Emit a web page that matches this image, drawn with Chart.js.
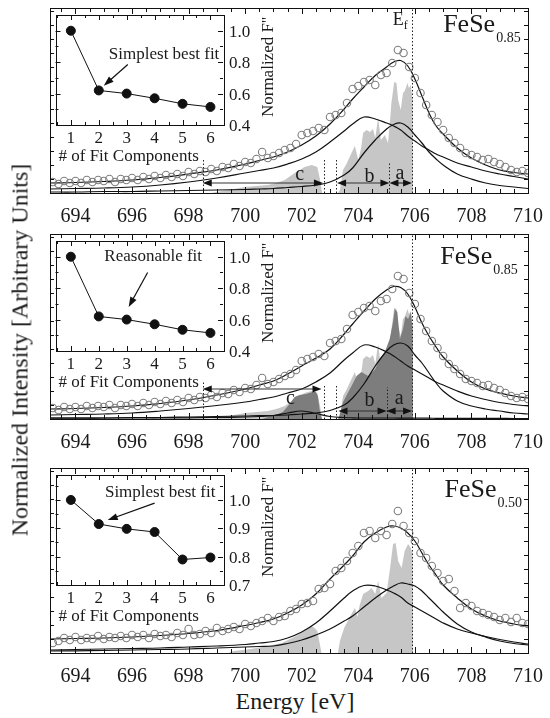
<!DOCTYPE html>
<html>
<head>
<meta charset="utf-8">
<script src="https://cdn.jsdelivr.net/npm/chart.js@4.4.1/dist/chart.umd.min.js"></script>
<style>
  body { margin: 0; background: #fff; }
  #wrap { position: relative; width: 550px; height: 718px; font-family: "Liberation Serif", "Times New Roman", serif; color: #1a1a1a; }
  canvas { position: absolute; }
  .lbl { position: absolute; white-space: nowrap; line-height: 1; }
  .ytitle { position: absolute; left: 20px; top: 350px; transform: translate(-50%, -50%) rotate(-90deg); white-space: nowrap; font-size: 24px; }
  .xtitle { position: absolute; left: 295px; top: 701px; transform: translate(-50%, -50%); white-space: nowrap; font-size: 24px; }
</style>
</head>
<body>
<div id="wrap">
  <canvas id="main1" width="550" height="226" style="left:0;top:0"></canvas>
  <canvas id="main2" width="550" height="226" style="left:0;top:226px"></canvas>
  <canvas id="main3" width="550" height="226" style="left:0;top:460px"></canvas>
  <canvas id="inset1" width="250" height="170" style="left:50px;top:6px"></canvas>
  <canvas id="inset2" width="250" height="170" style="left:50px;top:232px"></canvas>
  <canvas id="inset3" width="250" height="170" style="left:50px;top:466px"></canvas>
  <div class="ytitle">Normalized Intensity [Arbitrary Units]</div>
  <div class="xtitle">Energy [eV]</div>
</div>
<script>
// x axis
const xTicks = [694, 696, 698, 700, 702, 704, 706, 708, 710];

// measured points (open circles), same energy grid for all panels
const eCirc = [693.2, 693.4, 693.6, 693.8, 694, 694.2, 694.4, 694.6, 694.8, 695, 695.2, 695.4, 695.6, 695.8,
  696, 696.2, 696.4, 696.6, 696.8, 697, 697.2, 697.4, 697.6, 697.8, 698, 698.2, 698.4, 698.6, 698.8,
  699, 699.2, 699.4, 699.6, 699.8, 700, 700.2, 700.4, 700.6, 700.8, 701, 701.2, 701.4, 701.6, 701.8,
  702, 702.2, 702.4, 702.6, 702.8, 703, 703.2, 703.4, 703.6, 703.8, 704, 704.2, 704.4, 704.6, 704.8,
  705, 705.2, 705.4, 705.6, 705.8, 706, 706.2, 706.4, 706.6, 706.8, 707, 707.2, 707.4, 707.6, 707.8,
  708, 708.2, 708.4, 708.6, 708.8, 709, 709.2, 709.4, 709.6, 709.8, 710];
const circ085 = [11, 9, 12, 10, 12, 10, 13, 11, 13, 12, 14, 11, 14, 13,
  15, 13, 16, 14, 17, 15, 18, 16, 19, 17, 21, 19, 22, 21, 24,
  22, 26, 25, 29, 27, 31, 30, 34, 41, 35, 37, 40, 43, 45, 49,
  58, 60, 62, 65, 63, 76, 78, 80, 90, 104, 107, 111, 113, 108, 118,
  120, 130, 143, 140, 126, 115, 100, 88, 78, 71, 63, 55, 50, 45, 40,
  38, 36, 33, 34, 31, 29, 26, 23, 21, 22, 20];
const circ050 = [10, 12, 15, 13, 16, 13, 15, 14, 17, 14, 16, 15, 17, 15,
  18, 16, 18, 15, 19, 17, 18, 16, 20, 18, 24, 18, 19, 22, 20,
  25, 22, 24, 26, 24, 29, 27, 30, 32, 35, 32, 36, 37, 42, 44,
  49, 50, 52, 64, 65, 69, 82, 85, 92, 100, 107, 120, 122, 115, 122,
  118, 129, 142, 127, 120, 112, 100, 95, 87, 80, 72, 74, 62, 45, 50,
  47, 42, 40, 38, 36, 33, 35, 31, 35, 30, 29];

// fit curves, common energy grid
const eFit = [693.1, 694, 695, 696, 697, 698, 699, 700, 700.5, 701, 701.5, 702, 702.5, 703, 703.5, 703.8,
  704.2, 704.6, 705, 705.25, 705.5, 705.75, 706, 706.25, 706.5, 706.75, 707, 707.5, 708, 708.5, 709, 709.5, 710];
const fit1Total = [10, 10.5, 11.5, 13, 15.5, 19, 23, 29, 32.5, 36, 41, 48, 57, 69, 84, 94,
  106, 117.5, 126, 131, 132.5, 127, 114, 97, 80, 67, 59, 45, 35, 28, 23, 20.5, 19];
const fit1B = [4, 4.5, 5, 6, 8, 11, 15, 20, 22.5, 25, 29, 34, 41, 51, 62, 69,
  76, 74, 70, 67, 63, 57, 52, 47, 43, 39, 36, 30, 26, 22, 19, 16.5, 14];
const fit1A = [1, 1, 1.5, 1.5, 2, 2.5, 3, 3.5, 4, 4.5, 5.5, 6.5, 8, 11, 18, 25,
  40, 53, 64, 68.5, 70, 66, 58, 50, 41, 34, 28, 19, 14, 10, 7.5, 6, 4.5];
const fit2Total = [10, 10.5, 11.5, 13, 15.5, 19, 24, 30, 34, 38, 45, 53, 61, 70, 85, 95,
  108, 120, 129, 132.5, 131.5, 125, 112, 96, 83, 72, 62, 48, 37, 30, 26, 23, 21];
const fit2B = [4, 4.5, 5, 6, 8, 10.5, 13.5, 17, 19.5, 22, 26, 30, 37, 46, 59, 66,
  74, 72, 67, 63, 58, 53, 49, 45, 41, 37, 34, 28, 23, 19.5, 16.5, 14.5, 13];
const fit2A = [1, 1, 1, 1.5, 1.5, 2, 2.5, 3, 3.5, 3.5, 4, 5, 6, 8.5, 14, 21,
  35, 53, 68, 74, 76, 73, 64, 56, 46, 36, 28, 18, 13, 10, 8, 6, 5];
const fit2C = [0.8, 0.8, 1, 1, 1, 1.2, 1.5, 2, 2.5, 3.5, 6, 8, 5.5, 2.5, 1.5, 1.2,
  1, 1, 1, 1, 0.9, 0.9, 0.8, 0.8, 0.8, 0.7, 0.7, 0.7, 0.6, 0.6, 0.6, 0.5, 0.5];
const fit3Total = [14, 14.5, 15, 16, 17.5, 19.5, 22.5, 27.5, 30.5, 34, 40, 48, 59, 74, 88, 97,
  111, 120, 126, 127, 125, 120, 112, 100, 88, 78, 68, 55, 44, 37, 32, 29, 27];
const fit3Low = [3, 3.5, 4, 4.5, 5, 6, 7, 8.5, 10, 11.5, 15, 21, 30, 42, 55, 62,
  67.5, 67, 63, 60, 56, 50, 46, 42, 38, 34, 30, 24, 20, 16.5, 13.5, 11, 9];
const fit3High = [2, 2.2, 2.5, 3, 3.5, 4, 5, 6, 6.5, 7, 9.5, 13, 18, 24, 32, 37,
  46, 55, 63, 67, 70, 69, 67, 62, 55, 48, 41, 29, 21, 16, 12, 9.5, 8];

// calculated spectra (grey areas)
const specE1 = [698.8, 699.2, 699.6, 700, 700.4, 700.8, 701.1, 701.4, 701.75, 702.1, 702.35, 702.55, 702.65, 702.72,
  703.28, 703.35, 703.46, 703.58, 703.76, 703.88, 704.0, 704.1, 704.17, 704.29, 704.41, 704.52, 704.6, 704.7,
  704.8, 704.94, 705.05, 705.11, 705.17, 705.27, 705.35, 705.41, 705.5, 705.58, 705.64, 705.74, 705.79, 705.86, 705.92, 705.93];
const specI1 = [0, 2, 4, 6, 7, 8, 10, 13, 20, 26, 28, 26, 13, 0,
  0, 3, 23, 29, 40, 47, 33, 45, 60, 63, 61, 64, 55, 75,
  53, 58, 50, 68, 90, 111, 110, 93, 83, 100, 102, 110, 105, 108, 93, 0];
const darkE2 = [700.6, 700.8, 701.1, 701.33, 701.57, 701.75, 701.92, 702.15, 702.39, 702.5, 702.57, 702.63, 702.69, 702.72,
  703.3, 703.46, 703.76, 703.94, 704.11, 704.35, 704.6, 704.76, 704.94, 705.11, 705.23, 705.29, 705.38, 705.47,
  705.58, 705.67, 705.76, 705.86, 705.92, 705.93];
const darkI2 = [0, 2, 4, 7, 15, 22, 24, 25, 27, 27, 23, 10, 2, 0,
  0, 17, 33, 43, 47, 43, 50, 60, 67, 80, 97, 110, 107, 80,
  90, 103, 100, 107, 90, 0];
const specE3 = [699.4, 699.6, 700.2, 700.8, 701.3, 701.8, 702.1, 702.35, 702.45, 702.55, 702.62, 702.7,
  703.28, 703.35, 703.5, 703.76, 703.88, 703.97, 704.05, 704.17, 704.35, 704.47, 704.6, 704.7, 704.82, 705.0,
  705.11, 705.23, 705.32, 705.41, 705.53, 705.64, 705.76, 705.86, 705.92, 705.93];
const specI3 = [0, 2, 4, 7, 10, 17, 22, 27, 25, 22, 12, 0,
  0, 12, 25, 39, 45, 36, 48, 59, 62, 65, 59, 72, 55, 60,
  82, 109, 110, 92, 85, 102, 109, 105, 99, 0];

// insets: normalized F'' vs number of fit components
const nComp = [1, 2, 3, 4, 5, 6];
const fRatio1 = [1.0, 0.62, 0.60, 0.57, 0.535, 0.515];
const fRatio2 = [1.0, 0.62, 0.60, 0.57, 0.535, 0.515];
const fRatio3 = [1.0, 0.915, 0.898, 0.887, 0.79, 0.797];
const insetTicks12 = [0.4, 0.6, 0.8, 1.0];
const insetTicks3 = [0.7, 0.8, 0.9, 1.0];

const wrap = document.getElementById('wrap');

function pts(xs, ys) {
  return xs.map((v, i) => ({ x: v, y: ys[i] }));
}

// text is placed as html on top of the canvases, at positions given by the chart scales
function addText(html, x, y, size, opts = {}) {
  const d = document.createElement('div');
  d.className = 'lbl';
  d.innerHTML = html;
  d.style.fontSize = size + 'px';
  d.style.left = x + 'px';
  d.style.top = y + 'px';
  const tx = opts.align === 'left' ? '0' : '-50%';
  d.style.transform = `translate(${tx}, -50%)` + (opts.rotate ? ` rotate(${opts.rotate}deg)` : '');
  wrap.appendChild(d);
}

function arrowHead(ctx, tx, ty, ang, len = 9, half = 3.5) {
  const c = Math.cos(ang), s = Math.sin(ang);
  ctx.beginPath();
  ctx.moveTo(tx, ty);
  ctx.lineTo(tx - len * c - half * s, ty - len * s + half * c);
  ctx.lineTo(tx - len * c + half * s, ty - len * s - half * c);
  ctx.closePath();
  ctx.fill();
}

const panelDecor = {
  id: 'panelDecor',
  afterDatasetsDraw(chart, args, opts) {
    const { ctx, chartArea: a, scales: { x, y } } = chart;
    ctx.save();
    ctx.strokeStyle = '#222';
    ctx.lineWidth = 1;
    ctx.setLineDash([1.5, 2]);
    (opts.dotted || []).forEach(([e, h]) => {
      const px = Math.round(x.getPixelForValue(e)) + 0.5;
      ctx.beginPath();
      ctx.moveTo(px, a.bottom);
      ctx.lineTo(px, h == null ? a.top : y.getPixelForValue(h));
      ctx.stroke();
    });
    ctx.setLineDash([]);
    ctx.strokeStyle = '#333';
    ctx.fillStyle = '#111';
    ctx.lineWidth = 1.2;
    (opts.arrows || []).forEach(([e1, e2, h]) => {
      const x1 = x.getPixelForValue(e1), x2 = x.getPixelForValue(e2), py = y.getPixelForValue(h);
      ctx.beginPath();
      ctx.moveTo(x1 + 4, py);
      ctx.lineTo(x2 - 4, py);
      ctx.stroke();
      arrowHead(ctx, x1, py, Math.PI);
      arrowHead(ctx, x2, py, 0);
    });
    ctx.restore();
  },
  afterDraw(chart) {
    const { ctx, chartArea: a, scales: { x, y } } = chart;
    ctx.save();
    ctx.strokeStyle = '#111';
    ctx.lineWidth = 1;
    ctx.strokeRect(Math.round(a.left) + 0.5, Math.round(a.top) + 0.5, Math.round(a.right - a.left), Math.round(a.bottom - a.top));
    ctx.beginPath();
    for (let e = 693.5; e < 710; e += 0.5) {
      const px = Math.round(x.getPixelForValue(e)) + 0.5;
      const len = e % 2 === 0 ? 6 : 4;
      ctx.moveTo(px, a.bottom); ctx.lineTo(px, a.bottom - len);
      ctx.moveTo(px, a.top); ctx.lineTo(px, a.top + len);
    }
    for (let h = 14; h < 185; h += 14) {
      const py = Math.round(y.getPixelForValue(h)) + 0.5;
      ctx.moveTo(a.left, py); ctx.lineTo(a.left + 4, py);
      ctx.moveTo(a.right, py); ctx.lineTo(a.right - 4, py);
    }
    ctx.stroke();
    ctx.restore();
  }
};

const insetDecor = {
  id: 'insetDecor',
  afterDraw(chart, args, opts) {
    const { ctx, chartArea: a, scales: { x, y } } = chart;
    ctx.save();
    ctx.strokeStyle = '#111';
    ctx.fillStyle = '#111';
    ctx.lineWidth = 1;
    ctx.strokeRect(Math.round(a.left) + 0.5, Math.round(a.top) + 0.5, Math.round(a.right - a.left), Math.round(a.bottom - a.top));
    ctx.beginPath();
    for (let n = 0.5; n <= 6; n += 0.5) {
      const px = Math.round(x.getPixelForValue(n)) + 0.5;
      const len = n % 1 === 0 ? 5 : 3;
      ctx.moveTo(px, a.bottom); ctx.lineTo(px, a.bottom - len);
      ctx.moveTo(px, a.top); ctx.lineTo(px, a.top + len);
    }
    opts.yMinor.forEach(v => {
      const py = Math.round(y.getPixelForValue(v)) + 0.5;
      const len = opts.yTicks.includes(v) ? 5 : 3;
      ctx.moveTo(a.left, py); ctx.lineTo(a.left + len, py);
      ctx.moveTo(a.right, py); ctx.lineTo(a.right - len, py);
    });
    ctx.stroke();

    const n = opts.note;
    const x1 = x.getPixelForValue(n.from[0]), y1 = y.getPixelForValue(n.from[1]);
    const x2 = x.getPixelForValue(n.to[0]), y2 = y.getPixelForValue(n.to[1]);
    const ang = Math.atan2(y2 - y1, x2 - x1);
    ctx.lineWidth = 1.2;
    ctx.beginPath();
    ctx.moveTo(x1, y1);
    ctx.lineTo(x2 - 6 * Math.cos(ang), y2 - 6 * Math.sin(ang));
    ctx.stroke();
    arrowHead(ctx, x2, y2, ang, 10, 3.5);
    ctx.restore();
  }
};

function mainChart(id, p) {
  const canvas = document.getElementById(id);
  const datasets = [
    {
      data: pts(eCirc, p.circ), showLine: false, pointRadius: 3.7, pointBorderWidth: 1.1,
      pointBorderColor: '#7e7e7e', pointBackgroundColor: 'rgba(255,255,255,0)'
    },
    ...p.fits.map(f => ({
      data: pts(eFit, f), showLine: true, borderColor: '#111', borderWidth: 1.2, pointRadius: 0, tension: 0.4
    })),
    ...p.fills.map(f => ({
      data: pts(f.e, f.i), showLine: true, borderWidth: 0, pointRadius: 0,
      backgroundColor: f.color, fill: 'origin', tension: 0
    }))
  ];
  const chart = new Chart(canvas, {
    type: 'scatter',
    data: { datasets },
    options: {
      responsive: false,
      animation: false,
      events: [],
      layout: { padding: { left: 50, right: 22, top: 8, bottom: 0 } },
      plugins: { legend: { display: false }, tooltip: { enabled: false }, panelDecor: p.decor },
      scales: {
        x: {
          type: 'linear', min: 693.1, max: 710,
          grid: { display: false }, border: { display: false },
          afterBuildTicks: s => { s.ticks = xTicks.map(v => ({ value: v })); },
          afterFit: s => { s.height = 33; },
          ticks: { display: false }
        },
        y: { display: false, min: 0, max: 185 }
      }
    },
    plugins: [panelDecor]
  });

  const ox = canvas.offsetLeft, oy = canvas.offsetTop;
  const { chartArea: a, scales: { x, y } } = chart;
  xTicks.forEach(v => addText(String(v), ox + x.getPixelForValue(v), oy + a.bottom + 22, 20));
  (p.decor.letters || []).forEach(([t, e, h]) => addText(t, ox + x.getPixelForValue(e), oy + y.getPixelForValue(h), 20));
  const s = p.decor.sample;
  addText(`${s.name}<span style="font-size:14px;position:relative;top:10px;margin-left:1px">${s.sub}</span>`,
    ox + x.getPixelForValue(s.e), oy + y.getPixelForValue(s.h) - 0.3375 * 26, 26, { align: 'left' });
  if (p.decor.ef) {
    const ef = p.decor.ef;
    addText('E<span style="font-size:12px;position:relative;top:4px">f</span>',
      ox + x.getPixelForValue(ef.e), oy + y.getPixelForValue(ef.h) - 0.3375 * 18, 18, { align: 'left' });
  }
}

function insetChart(id, p) {
  const canvas = document.getElementById(id);
  const chart = new Chart(canvas, {
    type: 'scatter',
    data: {
      datasets: [{
        data: pts(nComp, p.f), showLine: true, borderColor: '#111', borderWidth: 1,
        pointRadius: 4.5, pointBackgroundColor: '#111', pointBorderColor: '#111'
      }]
    },
    options: {
      responsive: false,
      animation: false,
      events: [],
      layout: { padding: { left: 5, top: 9, right: 0, bottom: 0 } },
      plugins: { legend: { display: false }, tooltip: { enabled: false }, insetDecor: p },
      scales: {
        x: {
          type: 'linear', min: 0.45, max: 6.45,
          grid: { display: false }, border: { display: false },
          afterBuildTicks: s => { s.ticks = nComp.map(v => ({ value: v })); },
          afterFit: s => { s.height = 51; },
          ticks: { display: false }
        },
        y: {
          position: 'right', min: p.yMin, max: p.yMax,
          grid: { display: false }, border: { display: false },
          afterBuildTicks: s => { s.ticks = p.yTicks.map(v => ({ value: v })); },
          afterFit: s => { s.width = 77; },
          ticks: { display: false }
        }
      }
    },
    plugins: [insetDecor]
  });

  const ox = canvas.offsetLeft, oy = canvas.offsetTop;
  const { chartArea: a, scales: { x, y } } = chart;
  nComp.forEach(v => addText(String(v), ox + x.getPixelForValue(v), oy + a.bottom + 12, 17));
  p.yTicks.forEach(v => addText(v.toFixed(1), ox + a.right + 6, oy + y.getPixelForValue(v), 17, { align: 'left' }));
  addText('# of Fit Components', ox + a.left + 3, oy + a.bottom + 30, 17, { align: 'left' });
  addText('Normalized F\'\'', ox + a.right + 44, oy + (a.top + a.bottom) / 2 - 3, 17, { rotate: -90 });
  const n = p.note;
  addText(n.text, ox + x.getPixelForValue(n.x), oy + y.getPixelForValue(n.y), 17);
}

mainChart('main1', {
  circ: circ085,
  fits: [fit1Total, fit1B, fit1A],
  fills: [{ e: specE1, i: specI1, color: '#c6c6c6' }],
  decor: {
    dotted: [[698.5, 33], [702.8, 33], [703.2, 33], [705.1, 31], [705.9, null]],
    arrows: [[698.5, 702.75, 10], [703.25, 705.1, 10], [705.1, 705.9, 10]],
    letters: [['c', 701.93, 20], ['b', 704.4, 18], ['a', 705.47, 21]],
    sample: { name: 'FeSe', sub: '0.85', e: 707.0, h: 160 },
    ef: { e: 705.22, h: 168 }
  }
});

mainChart('main2', {
  circ: circ085,
  fits: [fit2Total, fit2B, fit2A, fit2C],
  fills: [{ e: darkE2, i: darkI2, color: '#7d7d7d' }, { e: specE1, i: specI1, color: '#c6c6c6' }],
  decor: {
    dotted: [[698.5, 37], [702.8, 33], [703.2, 33], [705.0, 32], [705.9, null]],
    arrows: [[698.5, 702.7, 30], [703.3, 705.0, 8], [705.0, 705.9, 8]],
    letters: [['c', 701.6, 22], ['b', 704.4, 20], ['a', 705.45, 22]],
    sample: { name: 'FeSe', sub: '0.85', e: 706.9, h: 154 }
  }
});

mainChart('main3', {
  circ: circ050,
  fits: [fit3Total, fit3Low, fit3High],
  fills: [{ e: specE3, i: specI3, color: '#c6c6c6' }],
  decor: {
    dotted: [[705.9, null]],
    sample: { name: 'FeSe', sub: '0.50', e: 707.05, h: 155 }
  }
});

insetChart('inset1', {
  f: fRatio1, yMin: 0.4, yMax: 1.1, yTicks: insetTicks12, yMinor: [0.5, 0.6, 0.7, 0.8, 0.9, 1.0],
  note: { text: 'Simplest best fit', x: 4.34, y: 0.86, from: [3.04, 0.785], to: [2.18, 0.65] }
});
insetChart('inset2', {
  f: fRatio2, yMin: 0.4, yMax: 1.1, yTicks: insetTicks12, yMinor: [0.5, 0.6, 0.7, 0.8, 0.9, 1.0],
  note: { text: 'Reasonable fit', x: 3.95, y: 1.01, from: [3.75, 0.90], to: [3.07, 0.68] }
});
insetChart('inset3', {
  f: fRatio3, yMin: 0.7, yMax: 1.088, yTicks: insetTicks3, yMinor: [0.75, 0.8, 0.85, 0.9, 0.95, 1.0, 1.05],
  note: { text: 'Simplest best fit', x: 4.2, y: 1.03, from: [4.0, 0.989], to: [2.32, 0.929] }
});
</script>
</body>
</html>
